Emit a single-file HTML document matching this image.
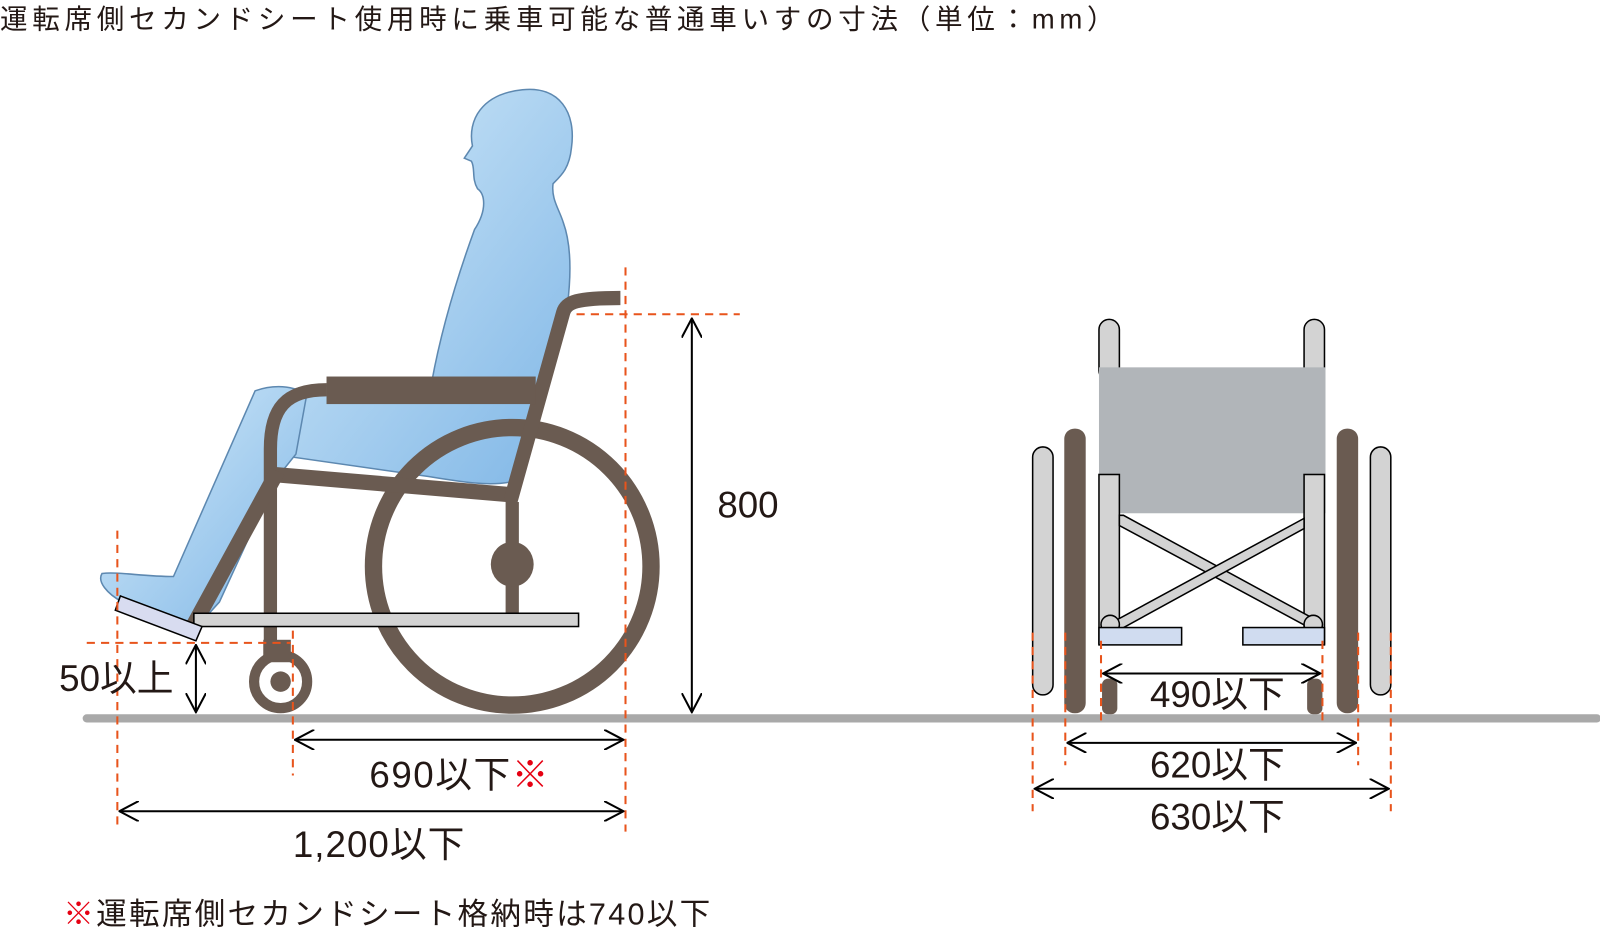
<!DOCTYPE html>
<html><head><meta charset="utf-8"><style>
html,body{margin:0;padding:0;background:#fff}
svg{display:block}
text{font-family:"Liberation Sans","Noto Sans CJK JP",sans-serif;fill:#231815}
</style></head><body>
<svg width="1600" height="929" viewBox="0 0 1600 929" xmlns="http://www.w3.org/2000/svg">
<defs>
<linearGradient id="bg" x1="0" y1="0" x2="1" y2="1">
<stop offset="0" stop-color="#d6ecfa"/><stop offset="1" stop-color="#7fb6e6"/>
</linearGradient>
<marker id="ah" viewBox="0 0 20 20" refX="19" refY="10" markerWidth="20" markerHeight="20" markerUnits="userSpaceOnUse" orient="auto-start-reverse">
<path d="M0,0 L19,10 L0,20" fill="none" stroke="#000" stroke-width="2"/>
</marker>
</defs>
<g transform="scale(1.0204)">
<text x="0" y="28" font-size="27" letter-spacing="4.6">運転席側セカンドシート使用時に乗車可能な普通車いすの寸法（単位：mm）</text>

<line x1="85" y1="704" x2="1565" y2="704" stroke="#a9a9a9" stroke-width="8" stroke-linecap="round"/>

<g fill="url(#bg)" stroke="#5d88b0" stroke-width="1.5">
<path d="M512,88 C548,84 565,110 560,145 C558,165 550,172 542,180 C540,195 548,205 552,218 C560,240 560,268 556,300 L502,472 C480,477 450,472 420,467 L280,447 C270,420 265,400 285,383 C300,376 320,376 340,382 L420,393 C428,340 445,280 465,225 C478,205 475,190 468,185 C462,175 466,165 462,158 L455,155 L463,143 C458,118 472,92 512,88 Z"/>
<path d="M250,383 C270,376 295,378 300,390 L290,445 L270,470 L215,590 L195,612 L120,590 C105,582 95,570 100,562 C115,560 140,565 170,565 Z"/>
</g>

<g fill="none" stroke="#6a5b51">
<circle cx="502" cy="555" r="136" stroke-width="17"/>
<path d="M265,630 L265,440 C265,400 280,382 320,382" stroke-width="13"/>
<line x1="268" y1="465" x2="503" y2="485" stroke-width="15"/>
<line x1="272" y1="462" x2="190" y2="612" stroke-width="15"/>
<path d="M500,492 L552,306 C555,296 565,292 608,292" stroke-width="14"/>
<line x1="502" y1="492" x2="502" y2="602" stroke-width="13"/>
<circle cx="275" cy="668" r="26" stroke-width="10"/>
</g>
<rect x="320" y="369" width="205" height="27" fill="#6a5b51"/>
<ellipse cx="502" cy="553" rx="21" ry="22" fill="#6a5b51"/>
<rect x="258" y="627" width="27" height="22" fill="#6a5b51"/>
<circle cx="275" cy="668" r="10" fill="#6a5b51"/>
<rect x="190" y="601" width="377" height="13" fill="#d3d3d3" stroke="#000" stroke-width="1.5"/>
<polygon points="118,584 198,614 192,628 113,598" fill="#d8dcf0" stroke="#000" stroke-width="1.5"/>

<g stroke="#e8541c" stroke-width="2" stroke-dasharray="8,6" fill="none">
<line x1="115" y1="520" x2="115" y2="812"/>
<line x1="287" y1="618" x2="287" y2="760"/>
<line x1="613" y1="262" x2="613" y2="815"/>
<line x1="85" y1="630" x2="285" y2="630"/>
<line x1="565" y1="308" x2="725" y2="308"/>
</g>
<g stroke="#000" stroke-width="2" fill="none" marker-start="url(#ah)" marker-end="url(#ah)">
<line x1="678" y1="312" x2="678" y2="698"/>
<line x1="192" y1="632" x2="192" y2="698"/>
<line x1="289" y1="725" x2="611" y2="725"/>
<line x1="117" y1="795" x2="611" y2="795"/>
</g>
<text x="703" y="507" font-size="36">800</text>
<text x="58" y="677" font-size="36">50以上</text>
<text x="362" y="772" font-size="36" letter-spacing="1.5">690以下<tspan style="fill:#e60012">※</tspan></text>
<text x="287" y="840" font-size="36" letter-spacing="1">1,200以下</text>
<text x="62" y="906" font-size="30" letter-spacing="2.2"><tspan style="fill:#e60012">※</tspan>運転席側セカンドシート格納時は740以下</text>

<g stroke="#000" stroke-width="1.5">
<rect x="1077" y="313" width="20" height="60" rx="10" fill="#d3d3d3"/>
<rect x="1278" y="313" width="20" height="60" rx="10" fill="#d3d3d3"/>
<rect x="1012" y="438" width="20" height="243" rx="10" fill="#d3d3d3"/>
<rect x="1343" y="438" width="20" height="243" rx="10" fill="#d3d3d3"/>
</g>
<rect x="1043" y="420" width="21" height="279" rx="10" fill="#6a5b51"/>
<rect x="1310" y="420" width="21" height="279" rx="10" fill="#6a5b51"/>
<rect x="1080" y="665" width="15" height="35" rx="6" fill="#6a5b51"/>
<rect x="1281" y="665" width="15" height="35" rx="6" fill="#6a5b51"/>
<rect x="1077" y="360" width="222" height="143" fill="#b1b5b9"/>
<g stroke="#000" stroke-width="1.5" fill="#d3d3d3">
<rect x="1077" y="465" width="20" height="166"/>
<rect x="1278" y="465" width="20" height="166"/>
<polygon points="1097,505 1101,505 1285,605 1281,614 1097,515"/>
<polygon points="1278,508 1278,518 1092,620 1088,611"/>
<circle cx="1088" cy="612" r="9"/>
<circle cx="1287" cy="612" r="9"/>
</g>
<rect x="1077" y="615" width="81" height="17" fill="#d0dcf0" stroke="#000" stroke-width="1.5"/>
<rect x="1218" y="615" width="80" height="17" fill="#d0dcf0" stroke="#000" stroke-width="1.5"/>
<g stroke="#e8541c" stroke-width="2" stroke-dasharray="8,6" fill="none">
<line x1="1012" y1="620" x2="1012" y2="795"/>
<line x1="1044" y1="620" x2="1044" y2="750"/>
<line x1="1079" y1="628" x2="1079" y2="712"/>
<line x1="1296" y1="628" x2="1296" y2="712"/>
<line x1="1331" y1="620" x2="1331" y2="750"/>
<line x1="1363" y1="620" x2="1363" y2="795"/>
</g>
<g stroke="#000" stroke-width="2" fill="none" marker-start="url(#ah)" marker-end="url(#ah)">
<line x1="1081" y1="660" x2="1294" y2="660"/>
<line x1="1046" y1="728" x2="1329" y2="728"/>
<line x1="1014" y1="773" x2="1361" y2="773"/>
</g>
<text x="1127" y="693" font-size="36">490以下</text>
<text x="1127" y="762" font-size="36">620以下</text>
<text x="1127" y="813" font-size="36">630以下</text>
</g>
</svg>
</body></html>
